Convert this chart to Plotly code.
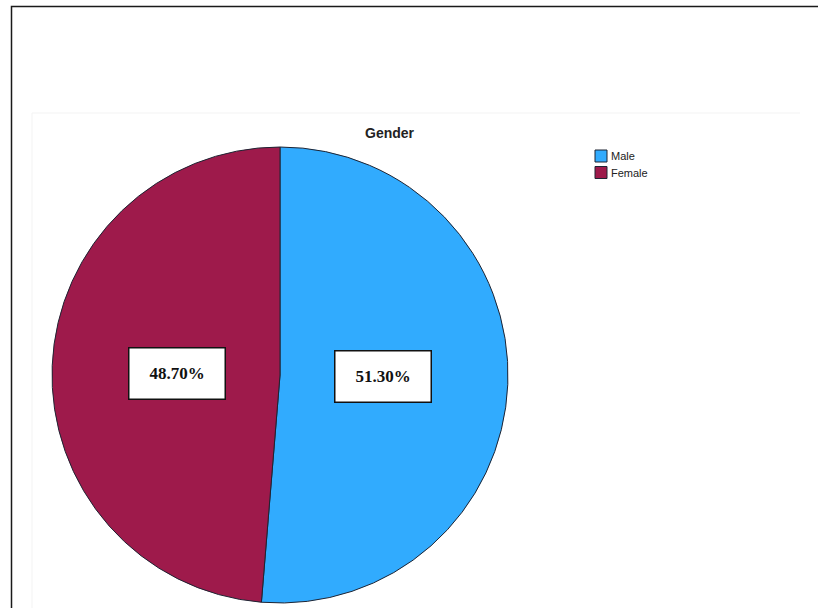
import math
import plotly.graph_objects as go

# Gender split (percent)
labels = ["Male", "Female"]
shares = [51.30, 48.70]
colors = ["#31ABFE", "#9E1A4B"]

W, H = 818, 608
# pie geometry in pixels
CX, CY, R = 280, 375, 228


def px(x):
    return x / W


def py(y):
    return 1 - y / H


fig = go.Figure()
fig.add_trace(go.Pie(
    labels=labels,
    values=shares,
    sort=False,
    direction="clockwise",
    rotation=0,
    textinfo="none",
    hoverinfo="label+percent",
    marker=dict(colors=colors, line=dict(color="#1e2433", width=1)),
    domain=dict(x=[px(CX - R), px(CX + R)], y=[py(CY + R), py(CY - R)]),
    showlegend=False,
))

annotations = []
shapes = []

# percentage boxes placed along each slice's mid-angle
total = sum(shares)
start = 0.0
for lab, val in zip(labels, shares):
    mid = (start + val / 2) / total * 2 * math.pi
    start += val
    bx = CX + 0.45 * R * math.sin(mid)
    by = CY - 0.45 * R * math.cos(mid) * 0.4
    annotations.append(dict(
        x=px(bx), y=py(by), xref="paper", yref="paper",
        text=f"<b>{val:.2f}%</b>", showarrow=False,
        font=dict(family="Liberation Serif, Times New Roman, serif", size=17, color="#111"),
        bgcolor="white", bordercolor="#111", borderwidth=1.5, borderpad=0,
        width=95, height=50, xanchor="center", yanchor="middle",
    ))

# title
annotations.append(dict(
    x=px(390), y=py(133), xref="paper", yref="paper",
    text="<b>Gender</b>", showarrow=False,
    font=dict(family="Liberation Sans, Arial, sans-serif", size=14, color="#222"),
    xanchor="center", yanchor="middle",
))

# legend: swatches and names
for i, (lab, col) in enumerate(zip(labels, colors)):
    yc = 156 + i * 16.5
    shapes.append(dict(
        type="rect", xref="paper", yref="paper",
        x0=px(595), x1=px(607), y0=py(yc + 6), y1=py(yc - 6),
        fillcolor=col, line=dict(color="#1e2433", width=1),
    ))
    annotations.append(dict(
        x=px(609), y=py(yc), xref="paper", yref="paper",
        text=lab, showarrow=False,
        font=dict(family="Liberation Sans, Arial, sans-serif", size=11, color="#222"),
        xanchor="left", yanchor="middle",
    ))

# faint chart-area edges (top and left)
shapes.append(dict(
    type="line", xref="paper", yref="paper",
    x0=px(32), x1=px(800), y0=py(113), y1=py(113),
    line=dict(color="#f3f3f3", width=1), layer="below",
))
shapes.append(dict(
    type="line", xref="paper", yref="paper",
    x0=px(32), x1=px(32), y0=py(113), y1=py(640),
    line=dict(color="#f3f3f3", width=1), layer="below",
))
# outer page frame
shapes.append(dict(
    type="rect", xref="paper", yref="paper",
    x0=px(11.5), x1=px(840), y0=py(640), y1=py(6.5),
    line=dict(color="#1a1a1a", width=1.5),
))

fig.update_layout(
    width=W, height=H,
    margin=dict(l=0, r=0, t=0, b=0),
    paper_bgcolor="white",
    plot_bgcolor="white",
    annotations=annotations,
    shapes=shapes,
    showlegend=False,
)

fig.write_html("out.html")
